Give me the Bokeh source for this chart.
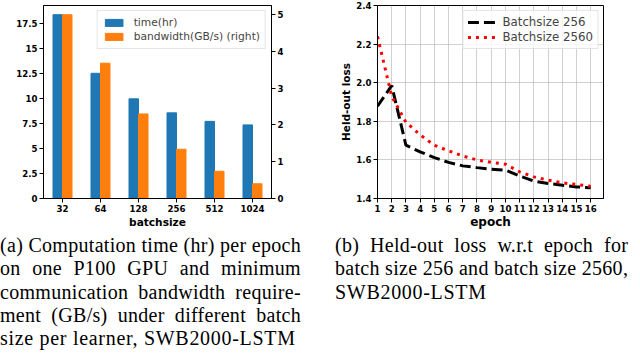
from bokeh.plotting import figure
from bokeh.models import (FactorRange, Range1d, LinearAxis, FixedTicker, Legend,
                          LegendItem, ColumnDataSource, Div)
from bokeh.transform import dodge
from bokeh.layouts import row, column
from bokeh.embed import file_html
from bokeh.resources import INLINE

# ---------------- data ----------------
batch_sizes = ["32", "64", "128", "256", "512", "1024"]
time_hr = [18.35, 12.5, 9.95, 8.55, 7.7, 7.35]
bandwidth_gbs = [5.0, 3.68, 2.3, 1.34, 0.74, 0.4]

epochs = list(range(1, 17))
loss_256 = [1.878, 1.985, 1.676, 1.642, 1.612, 1.587, 1.569, 1.56, 1.552, 1.547,
            1.517, 1.49, 1.478, 1.469, 1.46, 1.456]
loss_2560 = [2.24, 1.93, 1.795, 1.73, 1.676, 1.647, 1.62, 1.6, 1.587, 1.578,
             1.538, 1.512, 1.495, 1.481, 1.473, 1.463]

left_ticks = [0, 2.5, 5, 7.5, 10, 12.5, 15, 17.5]
left_tick_labels = ["0", "2.5", "5", "7.5", "10", "12.5", "15", "17.5"]
right_ticks = [0, 1, 2, 3, 4, 5]
loss_ticks = [1.4, 1.6, 1.8, 2.0, 2.2, 2.4]
loss_tick_labels = ["1.4", "1.6", "1.8", "2.0", "2.2", "2.4"]

caption_a = ["(a) Computation time (hr) per epoch",
             "on one P100 GPU and minimum",
             "communication bandwidth require-",
             "ment (GB/s) under different batch",
             "size per learner, SWB2000-LSTM"]
caption_b = ["(b) Held-out loss w.r.t epoch for",
             "batch size 256 and batch size 2560,",
             "SWB2000-LSTM"]

FONT = "DejaVu Sans"
TICK_SIZE = "8.6px"


def style_axis(ax, label_size="10.6px"):
    ax.axis_line_color = "black"
    ax.major_tick_line_color = "black"
    ax.minor_tick_line_color = None
    ax.major_tick_out = 4
    ax.major_tick_in = 0
    ax.major_label_text_font = FONT
    ax.major_label_text_font_style = "bold"
    ax.major_label_text_font_size = TICK_SIZE
    ax.major_label_text_color = "black"
    ax.major_label_standoff = 2
    ax.axis_label_text_font = FONT
    ax.axis_label_text_font_style = "bold"
    ax.axis_label_text_font_size = label_size
    ax.axis_label_text_color = "black"
    ax.axis_label_standoff = 1


# ---------------- left: bar chart ----------------
src = ColumnDataSource(dict(cat=batch_sizes, time=time_hr, bw=bandwidth_gbs))
p1 = figure(x_range=FactorRange(factors=batch_sizes, range_padding=0),
            y_range=Range1d(0, max(time_hr) * 1.05),
            frame_width=228, frame_height=193,
            min_border_left=43, min_border_top=5, min_border_right=49,
            min_border_bottom=27,
            output_backend="svg", toolbar_location=None)
p1.extra_y_ranges = {"bw": Range1d(0, max(bandwidth_gbs) * 1.05)}
r_time = p1.vbar(x=dodge("cat", -0.125, range=p1.x_range), top="time", width=0.25,
                 source=src, fill_color="#1f77b4", line_color="#1f77b4")
r_bw = p1.vbar(x=dodge("cat", 0.125, range=p1.x_range), top="bw", width=0.25,
               source=src, y_range_name="bw", fill_color="#ff7f0e", line_color="#ff7f0e")
p1.add_layout(LinearAxis(y_range_name="bw", ticker=FixedTicker(ticks=right_ticks)), "right")
p1.yaxis[0].ticker = FixedTicker(ticks=left_ticks)
p1.yaxis[0].major_label_overrides = {t: l for t, l in zip(left_ticks, left_tick_labels)}
p1.xaxis.axis_label = "batchsize"
p1.xgrid.visible = False
p1.ygrid.visible = False
p1.outline_line_color = "black"
p1.outline_line_alpha = 1
for ax in p1.xaxis + p1.yaxis:
    style_axis(ax)
leg1 = Legend(items=[LegendItem(label="time(hr)", renderers=[r_time]),
                     LegendItem(label="bandwidth(GB/s) (right)", renderers=[r_bw])],
              location="top_right", margin=5, padding=5, spacing=1,
              glyph_width=22, glyph_height=9, label_height=12, label_standoff=9,
              label_text_font=FONT, label_text_font_size="10.7px",
              border_line_color="#cccccc", border_line_width=1,
              background_fill_alpha=0.8)
p1.add_layout(leg1)

# ---------------- right: line chart ----------------
p2 = figure(x_range=Range1d(1, 16.9), y_range=Range1d(1.4, 2.4),
            frame_width=226, frame_height=193,
            min_border_left=57, min_border_top=5, min_border_right=20,
            min_border_bottom=27,
            output_backend="svg", toolbar_location=None)
l1 = p2.line(epochs, loss_256, line_color="black", line_width=3, line_dash="11 5")
l2 = p2.line(epochs, loss_2560, line_color="red", line_width=3, line_dash="3 5")
p2.xaxis.ticker = FixedTicker(ticks=epochs)
p2.yaxis.ticker = FixedTicker(ticks=loss_ticks)
p2.yaxis.major_label_overrides = {t: l for t, l in zip(loss_ticks, loss_tick_labels)}
p2.xaxis.axis_label = "epoch"
p2.yaxis.axis_label = "Held-out loss"
for ax in p2.xaxis + p2.yaxis:
    style_axis(ax)
p2.xaxis.axis_label_text_font_size = "12px"
p2.xaxis.axis_label_standoff = 0
p2.yaxis.axis_label_text_font_size = "10.5px"
p2.xgrid.ticker = FixedTicker(ticks=epochs)
p2.ygrid.ticker = FixedTicker(ticks=loss_ticks)
p2.grid.grid_line_color = "#b0b0b0"
p2.grid.grid_line_alpha = 0.6
p2.grid.grid_line_width = 1
p2.outline_line_color = "black"
p2.outline_line_alpha = 1
leg2 = Legend(items=[LegendItem(label="Batchsize 256", renderers=[l1]),
                     LegendItem(label="Batchsize 2560", renderers=[l2])],
              location="top_right", margin=5, padding=4, spacing=1,
              glyph_width=28, glyph_height=10, label_height=13, label_standoff=7,
              label_text_font=FONT, label_text_font_size="11.8px",
              border_line_color="#cccccc", border_line_width=1,
              background_fill_alpha=0.8)
p2.add_layout(leg2)


# ---------------- captions ----------------
def caption_html(lines):
    parts = []
    for i, ln in enumerate(lines):
        last = i == len(lines) - 1
        if last:
            align = "text-align:left;letter-spacing:0.7px;"
        else:
            align = "text-align:justify;text-align-last:justify;"
        parts.append(f'<div style="white-space:nowrap;{align}">{ln}</div>')
    return ('<div style="font-family:\'Liberation Serif\';font-size:20px;'
            'line-height:23.3px;letter-spacing:0.3px;color:black;">' + "".join(parts) + "</div>")


div_a = Div(text=caption_html(caption_a), width=306, margin=(3, 0, 0, 0))
div_b = Div(text=caption_html(caption_b), width=293, margin=(3, 0, 0, 29))

layout = column(row(p1, p2), row(div_a, div_b))

open("out.html", "w").write(file_html(layout, INLINE))
